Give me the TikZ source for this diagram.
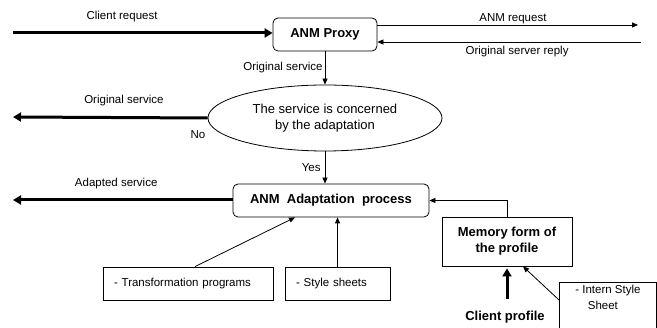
\documentclass[tikz,border=0pt]{standalone}
\usepackage{fontspec}
\setmainfont{Liberation Sans}
\usepackage{tikz}
\usetikzlibrary{positioning,shapes.geometric,arrows.meta}

\begin{document}
\begin{tikzpicture}[
  x=1pt, y=-1pt,
  lbl/.style={font=\fontsize{11.5}{13}\selectfont, inner sep=1pt},
  rbox/.style={draw, rounded corners=5pt, line width=0.8pt, font=\fontsize{13}{15}\selectfont\bfseries, inner sep=0pt},
  sbox/.style={draw, line width=0.8pt, inner sep=0pt},
  src/.style={sbox, font=\fontsize{11.5}{13}\selectfont, align=left, minimum height=33pt, inner xsep=11pt},
  test/.style={draw, ellipse, line width=0.8pt, align=center, inner sep=0pt,
    minimum width=234pt, minimum height=66pt, font=\fontsize{13}{16}\selectfont},
  arr/.style={-{Triangle[length=6pt, width=5pt]}, line width=0.8pt},
  fat/.style={-{Triangle[length=8pt, width=9pt]}, line width=3pt}
]
\clip (0,0) rectangle (657,328);

% proxy and the test on the service
\node[rbox, minimum width=104pt, minimum height=33pt] (proxy) at (325,34.5) {ANM Proxy};
\node[test] (cpt) at (325,118) {The service is concerned\\by the adaptation};
\node[rbox, minimum width=196pt, minimum height=33pt] (adapt) at (331,200.5) {ANM\ \ Adaptation\ \ process};

% inputs of the adaptation
\node[src, text width=148pt] (transf) at (188,283.5) {- Transformation programs};
\node[src, text width=83pt] (style) at (337.5,283.5) {- Style sheets};
\node[sbox, minimum width=130pt, minimum height=49pt, align=center,
  font=\fontsize{13}{16}\selectfont\bfseries] (memory) at (507,241.5) {Memory form of\\the profile};
\node[sbox, anchor=north west, minimum width=97pt, minimum height=60pt, align=center,
  font=\fontsize{11.5}{16}\selectfont, text depth=30pt] (intern) at (559,282) {- Intern Style\\Sheet\hspace*{10pt}};
\node[font=\fontsize{13}{15}\selectfont\bfseries, inner sep=1pt] (cprof) at (505,317) {Client profile};

% free ends
\coordinate (clin) at (13,33);
\coordinate (srvin) at (638,25);
\coordinate (srvout) at (641,42);
\coordinate (origout) at (13,117);
\coordinate (adaptout) at (13,200);

% client <-> proxy <-> server
\draw[fat] (clin) -- (clin -| proxy.west) node[lbl, pos=0.42, above=9pt] {Client request};
\draw[arr] (srvin -| proxy.east) -- (srvin) node[lbl, pos=0.52, above=0pt] {ANM request};
\draw[arr] (srvout) -- (srvout -| proxy.east) node[lbl, pos=0.47, below=3pt] {Original server reply};
\draw[arr] (proxy) -- (cpt) node[lbl, midway, left=1pt] {Original service};

% decision
\draw[fat] (cpt.west) -- (origout) node[lbl, pos=0.43, above=9pt] {Original service};
\node[lbl] (no) at (198,135) {No};
\draw[arr] (cpt.south) -- (cpt.south |- adapt.north) node[lbl, midway, left=3pt] {Yes};
\draw[fat] (adapt.west |- adaptout) -- (adaptout) node[lbl, pos=0.53, above=9pt] {Adapted service};

% feeding the adaptation
\draw[arr] (memory.north) |- (adapt.east);
\draw[arr] ([xshift=7pt]transf.north) -- ([xshift=-36pt]adapt.south);
\draw[arr] (style.north) -- (style.north |- adapt.south);
\draw[fat, shorten <=11pt, shorten >=2pt] (cprof.north -| memory.south) -- (memory.south);
\draw[arr] ([yshift=-18pt]intern.north west) -- ([xshift=16pt]memory.south);
\end{tikzpicture}
\end{document}
